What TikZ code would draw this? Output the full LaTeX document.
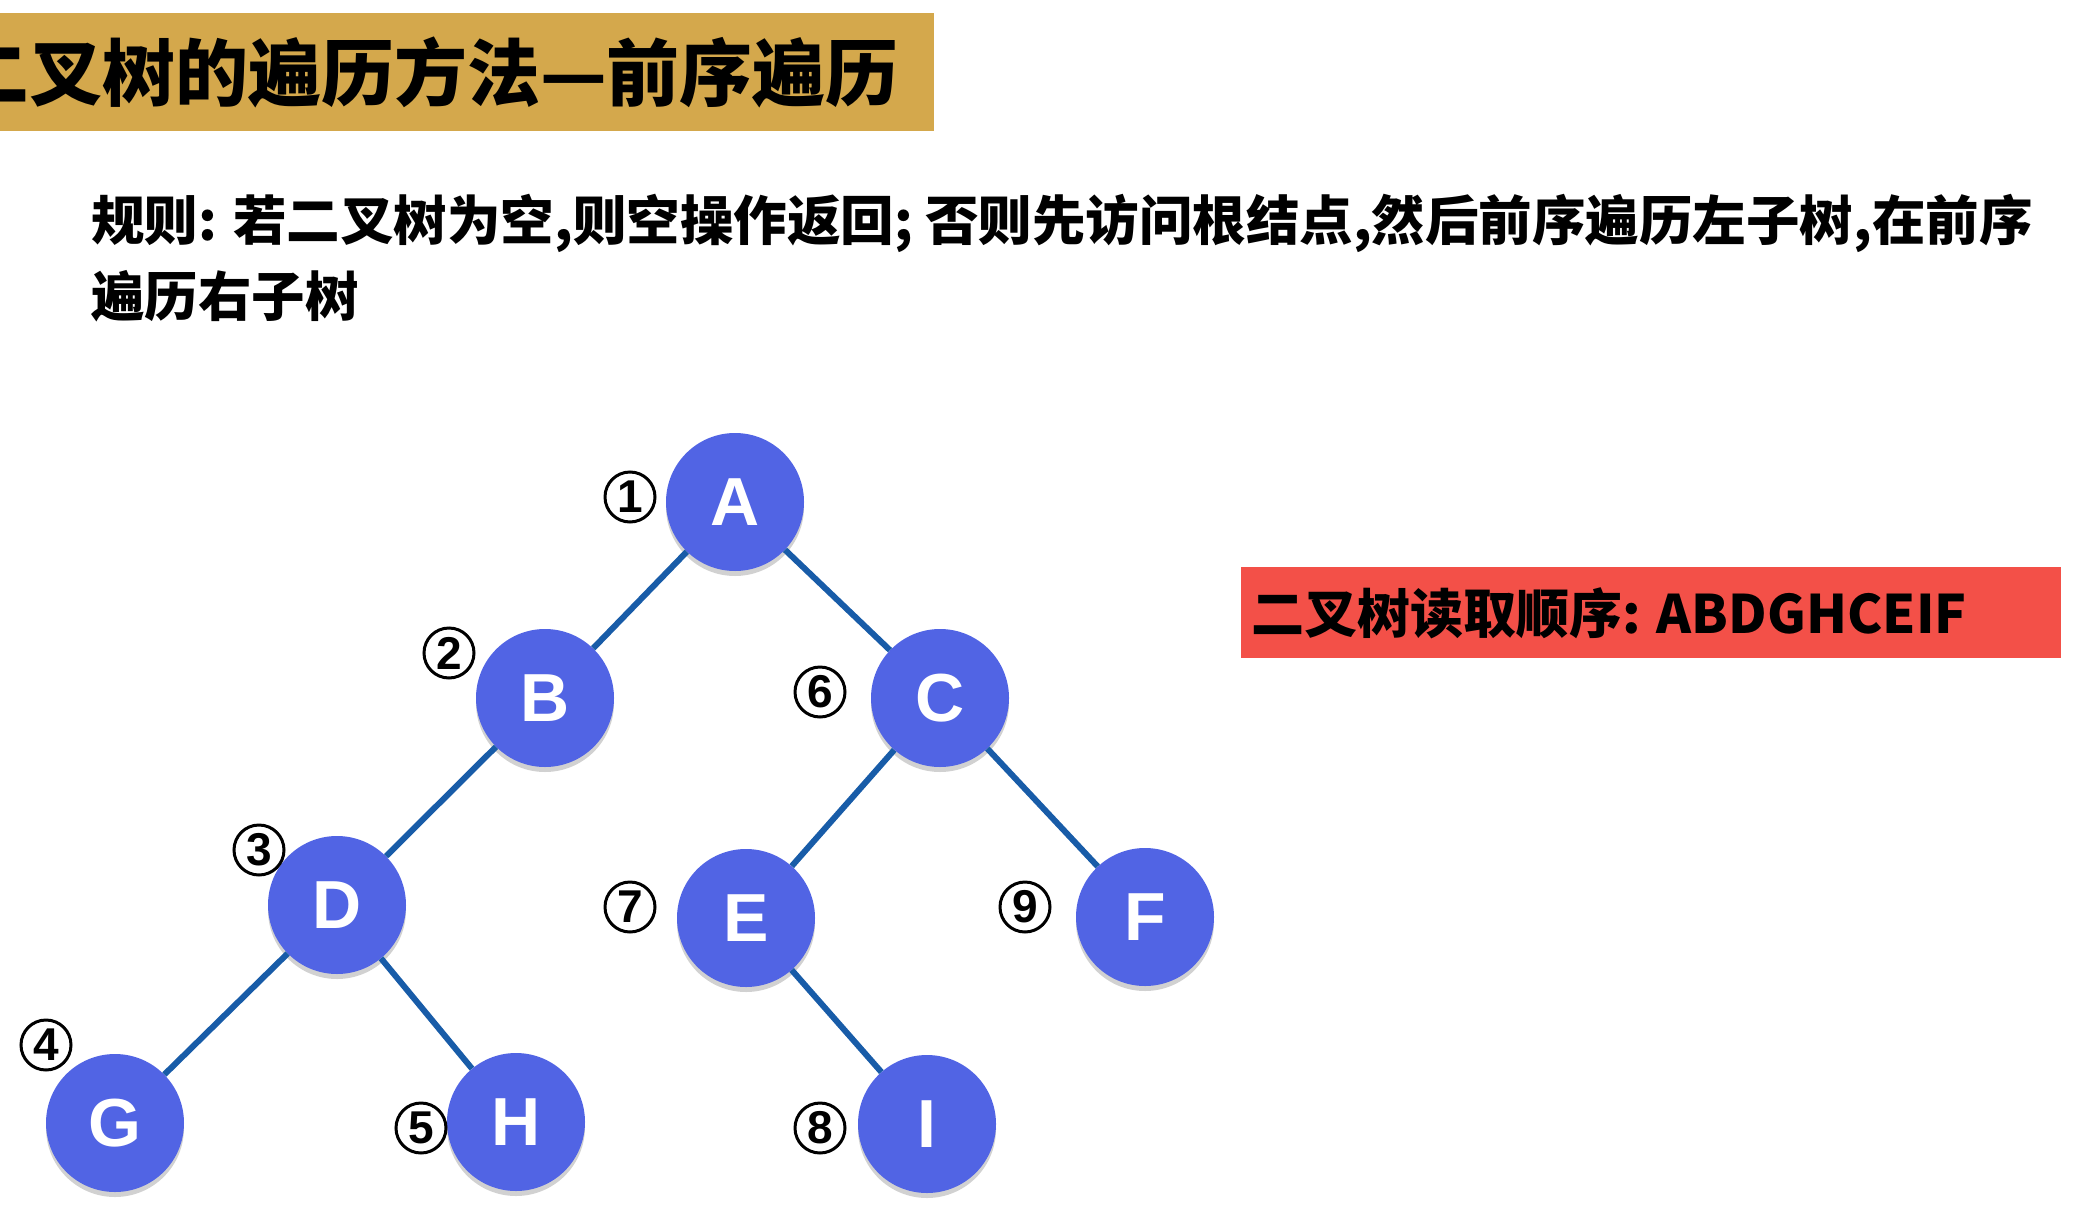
\documentclass[tikz,border=0pt]{standalone}
\usepackage{fontspec}
\usetikzlibrary{shadows}
\newfontfamily\cjk{Noto Sans CJK SC}
\newfontfamily\letterfont{Liberation Sans}
\definecolor{titlegold}{RGB}{212,168,76}
\definecolor{orderred}{RGB}{243,80,72}
\definecolor{nodeblue}{RGB}{81,100,228}
\definecolor{edgeblue}{RGB}{24,92,168}
\tikzset{
  treenode/.style={circle, fill=nodeblue, minimum size=138pt, inner sep=0pt,
    text=white, font=\letterfont\bfseries\fontsize{68}{68}\selectfont,
    drop shadow={shadow xshift=0pt, shadow yshift=-5pt, opacity=0.18, fill=black}},
  orderlabel/.style={circle, draw=black, line width=3pt, minimum size=50pt, inner sep=0pt,
    font=\letterfont\bfseries\fontsize{46}{46}\selectfont},
  treeedge/.style={draw=edgeblue, line width=6pt}
}

\begin{document}
\begin{tikzpicture}[x=1pt, y=-1pt]
			%%%%% START %%%%%
			\useasboundingbox (0, 0) rectangle (2076, 1220);
			
			\fill[titlegold] (0, 13) rectangle (934, 131);
			\begin{scope}
			\clip (0, 0) rectangle (934, 131);
			\node[anchor=west, inner sep=0pt, font=\cjk\bfseries\fontsize{73}{73}\selectfont] (title) at (-44, 72) {二叉树的遍历方法—前序遍历};
			\end{scope}
			
			\node[anchor=west, inner sep=0pt, align=left, font=\cjk\bfseries\fontsize{53.5}{76}\selectfont] (rule) at (91, 258)
				{规则: 若二叉树为空,则空操作返回; 否则先访问根结点,然后前序遍历左子树,在前序\\遍历右子树};
			
			\fill[orderred] (1241, 567) rectangle (2061, 658);
			\node[anchor=west, inner sep=0pt, font=\cjk\bfseries\fontsize{53}{53}\selectfont] (order) at (1251, 613) {二叉树读取顺序: ABDGHCEIF};
			
			% tree
			\node[treenode] (A) at (735, 502) {A};
			\node[treenode] (B) at (545, 698) {B};
			\node[treenode] (C) at (940, 698) {C};
			\node[treenode] (D) at (337, 905) {D};
			\node[treenode] (E) at (746, 918) {E};
			\node[treenode] (F) at (1145, 917) {F};
			\node[treenode] (G) at (115, 1123) {G};
			\node[treenode] (H) at (516, 1122) {H};
			\node[treenode] (I) at (927, 1124) {I};
			
			\draw[treeedge] (A) -- (B);
			\draw[treeedge] (A) -- (C);
			\draw[treeedge] (B) -- (D);
			\draw[treeedge] (D) -- (G);
			\draw[treeedge] (D) -- (H);
			\draw[treeedge] (C) -- (E);
			\draw[treeedge] (C) -- (F);
			\draw[treeedge] (E) -- (I);
			
			% visit order
			\node[orderlabel] (n1) at (630, 497) {1};
			\node[orderlabel] (n2) at (449, 653) {2};
			\node[orderlabel] (n3) at (259, 850) {3};
			\node[orderlabel] (n4) at (46, 1045) {4};
			\node[orderlabel] (n5) at (421, 1128) {5};
			\node[orderlabel] (n6) at (820, 692) {6};
			\node[orderlabel] (n7) at (630, 907) {7};
			\node[orderlabel] (n8) at (820, 1128) {8};
			\node[orderlabel] (n9) at (1025, 907) {9};
			
			%%%%% END %%%%%
\end{tikzpicture}
\end{document}
